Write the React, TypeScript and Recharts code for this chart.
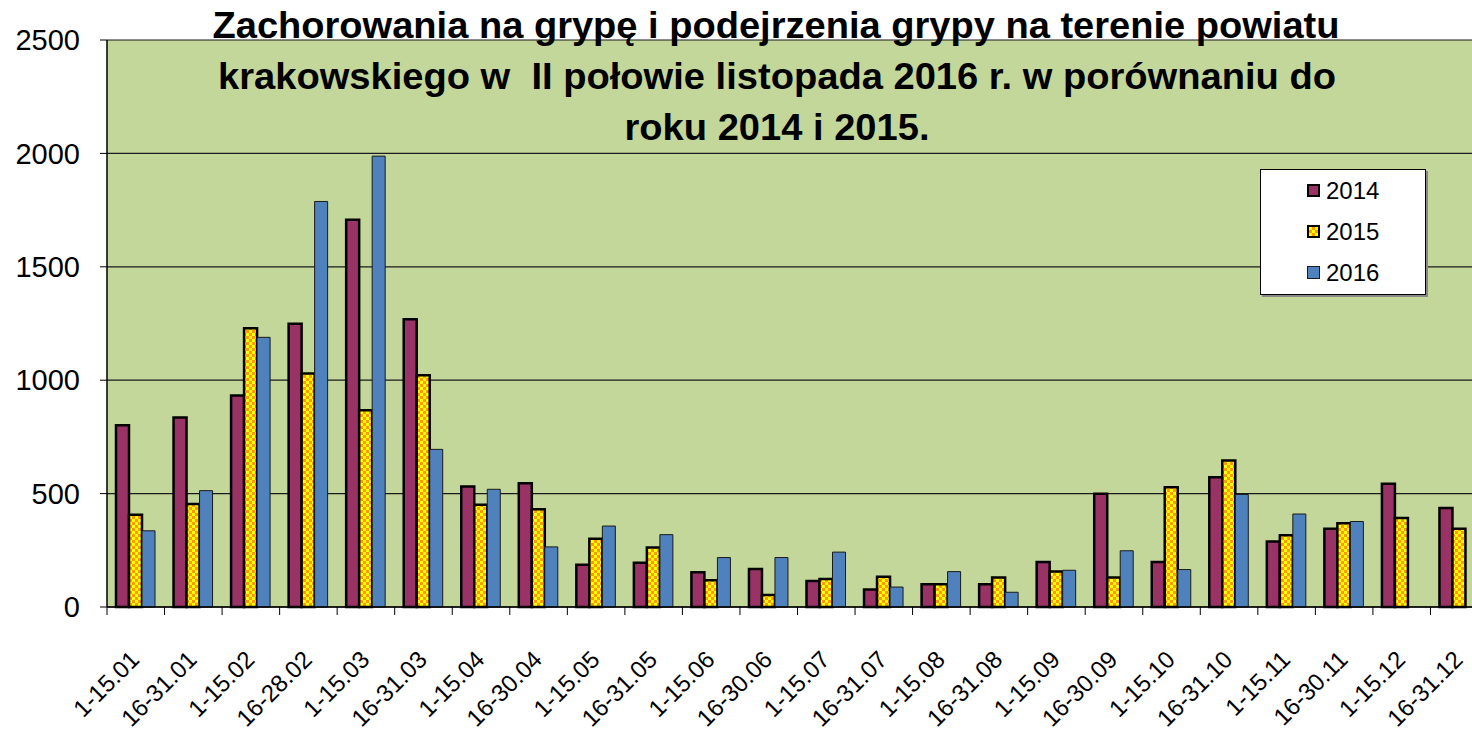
import React from 'react';
import {
  BarChart,
  Bar,
  XAxis,
  YAxis,
  CartesianGrid,
  Legend
} from 'recharts';

// half-month periods
const periods = [
  '1-15.01', '16-31.01', '1-15.02', '16-28.02', '1-15.03', '16-31.03',
  '1-15.04', '16-30.04', '1-15.05', '16-31.05', '1-15.06', '16-30.06',
  '1-15.07', '16-31.07', '1-15.08', '16-31.08', '1-15.09', '16-30.09',
  '1-15.10', '16-31.10', '1-15.11', '16-30.11', '1-15.12', '16-31.12'
];

const cases2014 = [801, 835, 932, 1249, 1708, 1269, 531, 546, 186, 195, 153, 168, 115, 77, 100, 100, 198, 499, 198, 572, 289, 345, 543, 437];
const cases2015 = [407, 454, 1229, 1030, 867, 1022, 451, 431, 301, 262, 118, 53, 124, 133, 100, 130, 156, 130, 528, 646, 316, 369, 392, 345];
const cases2016 = [336, 513, 1189, 1788, 1988, 695, 519, 265, 357, 319, 218, 218, 242, 88, 156, 65, 162, 248, 165, 496, 410, 377, null, null];

const yTicks = [0, 500, 1000, 1500, 2000, 2500];

const titleLines = [
  'Zachorowania na grypę i podejrzenia grypy na terenie powiatu',
  'krakowskiego w  II połowie listopada 2016 r. w porównaniu do',
  'roku 2014 i 2015.'
];

const FONT = '"Liberation Sans", Arial, sans-serif';

const series = [
  { key: 'y2014', name: '2014', fill: '#993366', stroke: '#000', strokeWidth: 2.5 },
  { key: 'y2015', name: '2015', fill: 'url(#pattern2015)', stroke: '#000', strokeWidth: 2.5 },
  { key: 'y2016', name: '2016', fill: '#4f81bd', stroke: '#1a1a1a', strokeWidth: 1 }
];

const data = periods.map((p, i) => ({
  period: p,
  y2014: cases2014[i],
  y2015: cases2015[i],
  y2016: cases2016[i]
}));

const XTick = (props: any) => {
  const { x, y, payload } = props;
  const half = payload && payload.offset ? payload.offset : 28.77;
  return (
    <g>
      <line x1={x - half} x2={x - half} y1={y} y2={y + 8} stroke="#000" strokeWidth={1} />
      <text
        transform={`translate(${x + 5},${y + 54}) rotate(-45)`}
        textAnchor="end"
        fontSize={24}
        fontFamily={FONT}
        fill="#000"
      >
        {payload.value}
      </text>
    </g>
  );
};

const legendMarker = (name: string) => {
  if (name === '2014') {
    return { background: '#993366', border: '2px solid #000' };
  }
  if (name === '2015') {
    return {
      background: 'repeating-conic-gradient(#ff9900 0 25%, #ffff00 0 50%) 0 0 / 6px 6px',
      border: '2px solid #000'
    };
  }
  return { background: '#4f81bd', border: '1px solid #1a1a1a' };
};

const LegendBox = () => (
  <div
    style={{
      width: 166,
      height: 126,
      background: '#fff',
      border: '1px solid #000',
      boxShadow: '2px 2px 0 #888',
      boxSizing: 'border-box',
      paddingTop: 0,
      fontFamily: FONT
    }}
  >
    {series.map((s) => (
      <div key={s.key} style={{ display: 'flex', alignItems: 'center', height: 41, paddingLeft: 46 }}>
        <div style={{ width: 13, height: 13, boxSizing: 'border-box', ...legendMarker(s.name) }} />
        <span style={{ fontSize: 24, marginLeft: 6, color: '#000' }}>{s.name}</span>
      </div>
    ))}
  </div>
);

export default function App() {
  return (
    <div
      style={{
        position: 'absolute',
        left: 0,
        top: 0,
        width: 1472,
        height: 736,
        overflow: 'hidden',
        background: '#fff'
      }}
    >
      <BarChart
        width={1488}
        height={736}
        data={data}
        margin={{ top: 40, right: 0, left: 0, bottom: 0 }}
        barGap={0}
        barSize={13}
      >
        <defs>
          <pattern id="pattern2015" width="6" height="6" patternUnits="userSpaceOnUse">
            <rect width="6" height="6" fill="#ffff00" />
            <rect width="3" height="3" fill="#ff9900" />
            <rect x="3" y="3" width="3" height="3" fill="#ff9900" />
          </pattern>
        </defs>
        <CartesianGrid vertical={false} stroke="#1a1a1a" strokeWidth={1.2} fill="#c4d79b" fillOpacity={1} />
        <XAxis
          dataKey="period"
          interval={0}
          height={129}
          tickSize={0}
          tickMargin={0}
          tickLine={false}
          axisLine={{ stroke: '#000', strokeWidth: 1.5 }}
          tick={<XTick />}
        />
        <YAxis
          domain={[0, 2500]}
          ticks={yTicks}
          width={107}
          tickSize={7}
          tickMargin={20}
          axisLine={{ stroke: '#000', strokeWidth: 1.5 }}
          tickLine={{ stroke: '#000' }}
          tick={{ fontSize: 29, fill: '#000', fontFamily: FONT }}
        />
        <Legend
          layout="vertical"
          align="center"
          verticalAlign="middle"
          content={<LegendBox />}
          wrapperStyle={{ left: 1260, top: 169, width: 168, height: 128 }}
        />
        {series.map((s) => (
          <Bar
            key={s.key}
            dataKey={s.key}
            name={s.name}
            fill={s.fill}
            stroke={s.stroke}
            strokeWidth={s.strokeWidth}
            isAnimationActive={false}
          />
        ))}
      </BarChart>
      <svg
        width={1472}
        height={160}
        style={{ position: 'absolute', left: 0, top: 0, pointerEvents: 'none' }}
      >
        <text x={776} y={38} textAnchor="middle" fontSize={37} fontWeight="bold" fontFamily={FONT} fill="#000" textLength={1127} lengthAdjust="spacingAndGlyphs">
          {titleLines[0]}
        </text>
        <text x={777} y={89} textAnchor="middle" fontSize={37} fontWeight="bold" fontFamily={FONT} fill="#000" textLength={1118} lengthAdjust="spacingAndGlyphs" style={{ whiteSpace: 'pre' }}>
          {titleLines[1]}
        </text>
        <text x={777} y={140} textAnchor="middle" fontSize={37} fontWeight="bold" fontFamily={FONT} fill="#000" textLength={305} lengthAdjust="spacingAndGlyphs">
          {titleLines[2]}
        </text>
      </svg>
    </div>
  );
}
